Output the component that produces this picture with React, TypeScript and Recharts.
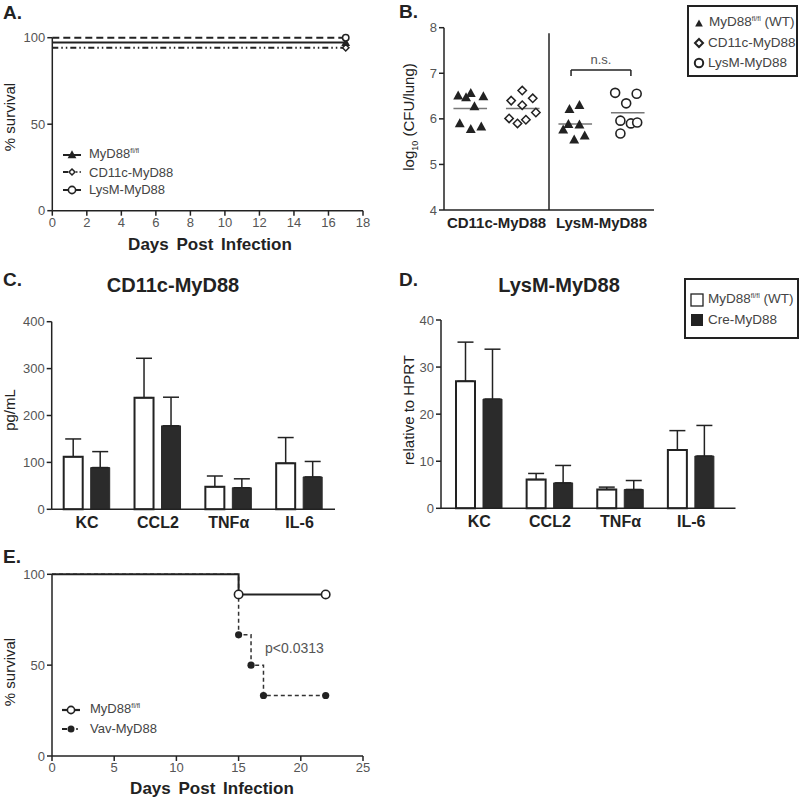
import React from 'react';
import {
  LineChart, Line, XAxis, YAxis, ScatterChart, Scatter, BarChart, Bar, ErrorBar,
  ReferenceLine, Legend, Label,
} from 'recharts';

const FONT = '"Liberation Sans", Arial, Helvetica, sans-serif';
const INK = '#222';
const GRAY = '#555';

// ---------- Panel A: survival ----------
const survA_days = [0, 17];
const survA_wt = [97.2, 97.2];
const survA_cd11c = [94.2, 94.2];
const survA_lysm = [100, 100];
const survA_xTicks = [0, 2, 4, 6, 8, 10, 12, 14, 16, 18];
const survA_yTicks = [0, 50, 100];

// ---------- Panel B: CFU ----------
const cfuGroupTicks = [1, 3];
const cfuGroupLabels = ['CD11c-MyD88', 'LysM-MyD88'];
const cfuYTicks = [4, 5, 6, 7, 8];
const cfuCd11cWt = [6.51, 6.47, 6.56, 6.49, 6.27, 5.90, 5.77, 5.83];
const cfuCd11cWtJitter = [-0.23, -0.08, 0.01, 0.25, 0.08, -0.2, 0.01, 0.21];
const cfuCd11cKo = [6.62, 6.40, 6.45, 6.30, 6.01, 5.90, 5.98, 6.14];
const cfuCd11cKoJitter = [-0.01, -0.22, 0.19, -0.01, -0.26, -0.1, 0.06, 0.25];
const cfuLysmWt = [6.21, 6.30, 5.88, 5.87, 5.76, 5.54, 5.63];
const cfuLysmWtJitter = [-0.11, 0.08, -0.13, 0.08, -0.23, -0.02, 0.18];
const cfuLysmKo = [6.57, 6.55, 6.34, 5.96, 5.90, 5.92, 5.68];
const cfuLysmKoJitter = [-0.24, 0.17, -0.03, -0.14, 0.06, 0.18, -0.14];
const cfuGroupCenters = [0.5, 1.5, 2.5, 3.5];

// ---------- Panel C: cytokines CD11c ----------
const cytoCats = ['KC', 'CCL2', 'TNFα', 'IL-6'];
const cytoC_wt = [112, 238, 48, 98];
const cytoC_wtErr = [38, 84, 23, 55];
const cytoC_cre = [89, 178, 46, 69];
const cytoC_creErr = [34, 61, 19, 33];
const cytoC_yTicks = [0, 100, 200, 300, 400];

// ---------- Panel D: cytokines LysM ----------
const cytoD_wt = [27.0, 6.1, 4.0, 12.4];
const cytoD_wtErr = [8.3, 1.3, 0.5, 4.1];
const cytoD_cre = [23.2, 5.4, 4.0, 11.1];
const cytoD_creErr = [10.6, 3.7, 1.9, 6.5];
const cytoD_yTicks = [0, 10, 20, 30, 40];

// ---------- Panel E: survival Vav ----------
const survE_wtDays = [0, 15, 22];
const survE_wtSurv = [100, 88.9, 88.9];
const survE_vavDays = [0, 15, 16, 17, 22];
const survE_vavSurv = [100, 66.7, 50, 33.3, 33.3];
const survE_xTicks = [0, 5, 10, 15, 20, 25];
const survE_yTicks = [0, 50, 100];

// ---------- derived tables ----------
const survAData = survA_days.map((d, i) => ({ day: d, wt: survA_wt[i], cd11c: survA_cd11c[i], lysm: survA_lysm[i] }));
const pts = (vals: number[], jit: number[], g: number) => vals.map((v, i) => ({ x: cfuGroupCenters[g] + jit[i], y: v }));
const mean = (a: number[]) => a.reduce((s, v) => s + v, 0) / a.length;
const cytoCData = cytoCats.map((c, i) => ({ cat: c, wt: cytoC_wt[i], wtErr: [0, cytoC_wtErr[i]], cre: cytoC_cre[i], creErr: [0, cytoC_creErr[i]] }));
const cytoDData = cytoCats.map((c, i) => ({ cat: c, wt: cytoD_wt[i], wtErr: [0, cytoD_wtErr[i]], cre: cytoD_cre[i], creErr: [0, cytoD_creErr[i]] }));
const survEWt = survE_wtDays.map((d, i) => ({ day: d, s: survE_wtSurv[i] }));
const survEVav = survE_vavDays.map((d, i) => ({ day: d, s: survE_vavSurv[i] }));

// ---------- styles ----------
const axisLine = { stroke: INK, strokeWidth: 1.5 };
const tickLine = { stroke: INK, strokeWidth: 1.5 };
const tickStyle = { fill: GRAY, fontSize: 13, fontFamily: FONT };
const boldTick = { fill: INK, fontSize: 16, fontWeight: 'bold' as const, fontFamily: FONT };
const boldTickB = { fill: INK, fontSize: 15, fontWeight: 'bold' as const, fontFamily: FONT };

const YTitle = ({ x, y, children, size = 15 }: any) => (
  <text x={x} y={y} transform={`rotate(-90, ${x}, ${y})`} textAnchor="middle" fontFamily={FONT} fontSize={size} fill={INK}>{children}</text>
);
const XTitle = ({ x, y, children }: any) => (
  <text x={x} y={y} textAnchor="middle" fontFamily={FONT} fontSize={17} fontWeight="bold" fill={INK} wordSpacing={3}>{children}</text>
);

// markers
const triPath = (cx: number, cy: number, s: number) => `M${cx},${cy - s * 0.58}L${cx + s * 0.55},${cy + s * 0.42}L${cx - s * 0.55},${cy + s * 0.42}Z`;
const diaPath = (cx: number, cy: number, s: number) => `M${cx},${cy - s}L${cx + s},${cy}L${cx},${cy + s}L${cx - s},${cy}Z`;

const endDot = (kind: string) => (props: any) => {
  const { cx, cy, index } = props;
  if (index !== survA_days.length - 1) return <g key={`n${kind}${index}`} />;
  if (kind === 'circle') return <circle key={`c${index}`} cx={cx} cy={cy} r={3.2} fill="#fff" stroke={INK} strokeWidth={1.5} />;
  if (kind === 'diamond') return <path key={`d${index}`} d={diaPath(cx, cy, 3.2)} fill="#fff" stroke={INK} strokeWidth={1.5} />;
  return <path key={`t${index}`} d={triPath(cx, cy, 8)} fill={INK} />;
};

const Sup = ({ children }: any) => (
  <span style={{ fontSize: 7, position: 'relative', top: -5 }}>{children}</span>
);

const legendRow = (h: number) => ({ height: h, lineHeight: `${h}px`, display: 'flex', alignItems: 'center', whiteSpace: 'nowrap' as const });

const LegendA = () => (
  <div style={{ fontFamily: FONT, fontSize: 13, color: '#444' }}>
    <div style={legendRow(17.5)}>
      <svg width={20} height={12} style={{ marginRight: 7 }}><line x1={1} y1={6} x2={19} y2={6} stroke={INK} strokeWidth={2} /><path d={triPath(10, 6, 8)} fill={INK} /></svg>
      <span>MyD88<Sup>fl/fl</Sup></span>
    </div>
    <div style={legendRow(17.5)}>
      <svg width={20} height={12} style={{ marginRight: 7 }}><line x1={1} y1={6} x2={6} y2={6} stroke={INK} strokeWidth={2} /><path d={diaPath(10, 6, 3)} fill="#fff" stroke={INK} strokeWidth={1.5} /><line x1={14} y1={6} x2={20} y2={6} stroke={INK} strokeWidth={1.5} strokeDasharray="1.5 2" /></svg>
      <span>CD11c-MyD88</span>
    </div>
    <div style={legendRow(17.5)}>
      <svg width={20} height={12} style={{ marginRight: 7 }}><line x1={1} y1={6} x2={19} y2={6} stroke={INK} strokeWidth={2} /><circle cx={10} cy={6} r={3.6} fill="#fff" stroke={INK} strokeWidth={1.6} /></svg>
      <span>LysM-MyD88</span>
    </div>
  </div>
);

const LegendB = () => (
  <div style={{ fontFamily: FONT, fontSize: 13.5, color: '#444', border: `2px solid ${INK}`, boxSizing: 'border-box', width: 111, height: 72, padding: '6px 0 0 4px', background: '#fff' }}>
    <div style={legendRow(20)}>
      <svg width={12} height={12} style={{ marginRight: 4 }}><path d={triPath(6, 6.5, 7)} fill={INK} /></svg>
      <span>MyD88<Sup>fl/fl</Sup> (WT)</span>
    </div>
    <div style={legendRow(20)}>
      <svg width={12} height={12} style={{ marginRight: 3 }}><path d={diaPath(6, 6, 4)} fill="#fff" stroke={INK} strokeWidth={2} /></svg>
      <span>CD11c-MyD88</span>
    </div>
    <div style={legendRow(20)}>
      <svg width={12} height={12} style={{ marginRight: 3 }}><circle cx={6} cy={6} r={4.2} fill="#fff" stroke={INK} strokeWidth={2} /></svg>
      <span>LysM-MyD88</span>
    </div>
  </div>
);

const LegendD = () => (
  <div style={{ fontFamily: FONT, fontSize: 13.5, color: '#444', border: `2px solid ${INK}`, boxSizing: 'border-box', width: 115, height: 61, padding: '10px 0 0 4px', background: '#fff' }}>
    <div style={legendRow(20)}>
      <svg width={14} height={14} style={{ marginRight: 4 }}><rect x={1} y={1} width={12} height={12} fill="#fff" stroke={INK} strokeWidth={1.3} /></svg>
      <span>MyD88<Sup>fl/fl</Sup> (WT)</span>
    </div>
    <div style={legendRow(20)}>
      <svg width={14} height={14} style={{ marginRight: 4 }}><rect x={1} y={1} width={12} height={12} fill={INK} /></svg>
      <span>Cre-MyD88</span>
    </div>
  </div>
);

const LegendE = () => (
  <div style={{ fontFamily: FONT, fontSize: 13, color: '#444' }}>
    <div style={legendRow(19)}>
      <svg width={22} height={12} style={{ marginRight: 8 }}><line x1={2} y1={6} x2={20} y2={6} stroke={INK} strokeWidth={2.2} /><circle cx={11} cy={6} r={3.6} fill="#fff" stroke={INK} strokeWidth={1.6} /></svg>
      <span>MyD88<Sup>fl/fl</Sup></span>
    </div>
    <div style={legendRow(19)}>
      <svg width={22} height={12} style={{ marginRight: 8 }}><line x1={2} y1={6} x2={7} y2={6} stroke={INK} strokeWidth={2} /><circle cx={11} cy={6} r={3.5} fill={INK} /><line x1={16} y1={6} x2={20} y2={6} stroke={INK} strokeWidth={1.5} strokeDasharray="2 2" /></svg>
      <span>Vav-MyD88</span>
    </div>
  </div>
);

const legendProps = { layout: 'horizontal' as const, verticalAlign: 'middle' as const, align: 'center' as const };

function PanelA() {
  return (
    <LineChart width={400} height={260} data={survAData} margin={{ top: 37.7, right: 37, bottom: 4.3, left: 12.3 }}>
      <XAxis type="number" dataKey="day" domain={[0, 18]} ticks={survA_xTicks} height={45} axisLine={axisLine} tickLine={tickLine} tick={tickStyle} tickSize={5} interval={0}>
        <Label content={() => <XTitle x={210} y={250}>Days Post Infection</XTitle>} />
      </XAxis>
      <YAxis type="number" domain={[0, 100]} ticks={survA_yTicks} width={40} axisLine={axisLine} tickLine={tickLine} tick={tickStyle} tickSize={5}>
        <Label content={() => <YTitle x={15} y={117}>% survival</YTitle>} />
      </YAxis>
      <Line dataKey="cd11c" stroke={INK} strokeWidth={1.8} strokeDasharray="6 3 1.5 3 1.5 3" dot={endDot('diamond')} isAnimationActive={false} />
      <Line dataKey="wt" stroke={INK} strokeWidth={2} dot={endDot('tri')} isAnimationActive={false} />
      <Line dataKey="lysm" stroke={INK} strokeWidth={2} strokeDasharray="7 4" dot={endDot('circle')} isAnimationActive={false} />
      <Legend {...legendProps} wrapperStyle={{ left: 62, top: 146, width: 140, height: 54 }} content={() => <LegendA />} />
    </LineChart>
  );
}

const scatterShape = (kind: string) => (p: any) => {
  const { cx, cy } = p;
  if (kind === 'tri') return <path d={triPath(cx, cy, 9)} fill={INK} />;
  if (kind === 'dia') return <path d={diaPath(cx, cy, 4.2)} fill="#fff" stroke={INK} strokeWidth={1.5} />;
  return <circle cx={cx} cy={cy} r={4.5} fill="#fff" stroke={INK} strokeWidth={1.6} />;
};

function PanelB() {
  const groups = [
    { vals: cfuCd11cWt, jit: cfuCd11cWtJitter, kind: 'tri' },
    { vals: cfuCd11cKo, jit: cfuCd11cKoJitter, kind: 'dia' },
    { vals: cfuLysmWt, jit: cfuLysmWtJitter, kind: 'tri' },
    { vals: cfuLysmKo, jit: cfuLysmKoJitter, kind: 'circ' },
  ];
  return (
    <ScatterChart width={400} height={260} margin={{ top: 27.7, right: 146, bottom: 10, left: 10 }}>
      <XAxis type="number" dataKey="x" domain={[0, 4]} ticks={cfuGroupTicks} tickFormatter={(v: number) => cfuGroupLabels[cfuGroupTicks.indexOf(v)]} height={40} axisLine={axisLine} tickLine={false} tick={boldTickB} tickSize={5} interval={0} />
      <YAxis type="number" dataKey="y" domain={[4, 8]} ticks={cfuYTicks} width={34} axisLine={axisLine} tickLine={tickLine} tick={tickStyle} tickSize={5}>
        <Label content={() => (
          <text x={14} y={117} transform="rotate(-90, 14, 117)" textAnchor="middle" fontFamily={FONT} fontSize={15} fill={INK}>
            log<tspan fontSize={9} dy={4}>10</tspan><tspan dy={-4}> (CFU/lung)</tspan>
          </text>
        )} />
      </YAxis>
      {groups.map((g, gi) => (
        <ReferenceLine key={`m${gi}`} segment={[{ x: cfuGroupCenters[gi] - 0.32, y: mean(g.vals) }, { x: cfuGroupCenters[gi] + 0.32, y: mean(g.vals) }]} stroke="#777" strokeWidth={1.5} />
      ))}
      <ReferenceLine segment={[{ x: 2, y: 4 }, { x: 2, y: 7.88 }]} stroke={INK} strokeWidth={1.5} />
      <ReferenceLine segment={[{ x: 2.42, y: 7.07 }, { x: 3.56, y: 7.07 }]} stroke={INK} strokeWidth={1.5}
        label={{ value: 'n.s.', position: 'top', fill: GRAY, fontSize: 13, fontFamily: FONT, offset: 6 }} />
      <ReferenceLine segment={[{ x: 2.42, y: 7.07 }, { x: 2.42, y: 6.94 }]} stroke={INK} strokeWidth={1.5} />
      <ReferenceLine segment={[{ x: 3.56, y: 7.07 }, { x: 3.56, y: 6.94 }]} stroke={INK} strokeWidth={1.5} />
      {groups.map((g, gi) => (
        <Scatter key={`s${gi}`} data={pts(g.vals, g.jit, gi)} shape={scatterShape(g.kind)} isAnimationActive={false} />
      ))}
      <Legend {...legendProps} wrapperStyle={{ left: 287, top: 5, width: 111, height: 72 }} content={() => <LegendB />} />
    </ScatterChart>
  );
}

function CytoChart({ data, yTicks, yMax, margin, yWidth, padding, title, legend }: any) {
  return (
    <BarChart width={400} height={270} data={data} margin={margin} barSize={19} barGap={8}>
      <XAxis dataKey="cat" height={20} axisLine={axisLine} tickLine={false} tick={boldTick} tickSize={5} interval={0} padding={padding} />
      <YAxis type="number" domain={[0, yMax]} ticks={yTicks} width={yWidth} axisLine={axisLine} tickLine={tickLine} tick={tickStyle} tickSize={5}>
        <Label content={() => title} />
      </YAxis>
      <Bar dataKey="wt" fill="#fff" stroke={INK} strokeWidth={2} isAnimationActive={false}>
        <ErrorBar dataKey="wtErr" width={8} stroke={INK} strokeWidth={1.5} direction="y" />
      </Bar>
      <Bar dataKey="cre" fill="#2b2b2b" stroke="#2b2b2b" strokeWidth={1} isAnimationActive={false}>
        <ErrorBar dataKey="creErr" width={8} stroke={INK} strokeWidth={1.5} direction="y" />
      </Bar>
      {legend}
    </BarChart>
  );
}

function PanelE() {
  const wtDot = (p: any) => p.index === 0 ? <g key={`w${p.index}`} /> : <circle key={`w${p.index}`} cx={p.cx} cy={p.cy} r={4.2} fill="#fff" stroke={INK} strokeWidth={1.6} />;
  const vavDot = (p: any) => p.index === 0 ? <g key={`v${p.index}`} /> : <circle key={`v${p.index}`} cx={p.cx} cy={p.cy} r={3.6} fill={INK} />;
  return (
    <LineChart width={400} height={271} margin={{ top: 44.3, right: 37, bottom: 3, left: 12 }}>
      <XAxis type="number" dataKey="day" domain={[0, 25]} ticks={survE_xTicks} height={42} axisLine={axisLine} tickLine={tickLine} tick={tickStyle} tickSize={5} interval={0} allowDuplicatedCategory={false}>
        <Label content={() => <XTitle x={212} y={264}>Days Post Infection</XTitle>} />
      </XAxis>
      <YAxis type="number" domain={[0, 100]} ticks={survE_yTicks} width={40} axisLine={axisLine} tickLine={tickLine} tick={tickStyle} tickSize={5}>
        <Label content={() => <YTitle x={15} y={142}>% survival</YTitle>} />
      </YAxis>
      <Line data={survEVav} dataKey="s" type="stepAfter" stroke="#333" strokeWidth={1.5} strokeDasharray="4 3" dot={vavDot} isAnimationActive={false} />
      <Line data={survEWt} dataKey="s" type="stepAfter" stroke={INK} strokeWidth={2} dot={wtDot} isAnimationActive={false} />
      <Legend {...legendProps} wrapperStyle={{ left: 60, top: 170, width: 140, height: 38 }} content={() => <LegendE />} />
    </LineChart>
  );
}

export default function App() {
  return (
    <div style={{ position: 'absolute', left: 0, top: 0, width: 800, height: 801, background: '#fff', overflow: 'hidden' }}>
      <div style={{ position: 'absolute', left: 0, top: 0 }}><PanelA /></div>
      <div style={{ position: 'absolute', left: 400, top: 0 }}><PanelB /></div>
      <div style={{ position: 'absolute', left: 0, top: 260 }}>
        <CytoChart data={cytoCData} yTicks={cytoC_yTicks} yMax={400} yWidth={40} padding={{ left: 0, right: 0 }}
          margin={{ top: 61.7, right: 65, bottom: 0.7, left: 11.7 }}
          title={<YTitle x={15} y={150}>pg/mL</YTitle>} legend={null} />
      </div>
      <div style={{ position: 'absolute', left: 400, top: 260 }}>
        <CytoChart data={cytoDData} yTicks={cytoD_yTicks} yMax={40} yWidth={32} padding={{ left: 3, right: 9 }}
          margin={{ top: 60, right: 64.5, bottom: 1.7, left: 9 }}
          title={<YTitle x={14} y={150}>relative to HPRT</YTitle>}
          legend={<Legend {...legendProps} wrapperStyle={{ left: 284, top: 18, width: 115, height: 61 }} content={() => <LegendD />} />} />
      </div>
      <div style={{ position: 'absolute', left: 0, top: 530 }}><PanelE /></div>
      <svg width={800} height={801} style={{ position: 'absolute', left: 0, top: 0, pointerEvents: 'none' }} fontFamily={FONT}>
        <text x={3} y={19} fontSize={19} fontWeight="bold" fill={INK}>A.</text>
        <text x={399} y={18} fontSize={19} fontWeight="bold" fill={INK}>B.</text>
        <text x={3} y={286} fontSize={19} fontWeight="bold" fill={INK}>C.</text>
        <text x={399} y={286} fontSize={19} fontWeight="bold" fill={INK}>D.</text>
        <text x={3} y={563} fontSize={19} fontWeight="bold" fill={INK}>E.</text>
        <text x={173} y={292} fontSize={20} fontWeight="bold" fill={INK} textAnchor="middle">CD11c-MyD88</text>
        <text x={559} y={292} fontSize={20} fontWeight="bold" fill={INK} textAnchor="middle">LysM-MyD88</text>
        <text x={265} y={653} fontSize={14} fill={GRAY}>p&lt;0.0313</text>
      </svg>
    </div>
  );
}
